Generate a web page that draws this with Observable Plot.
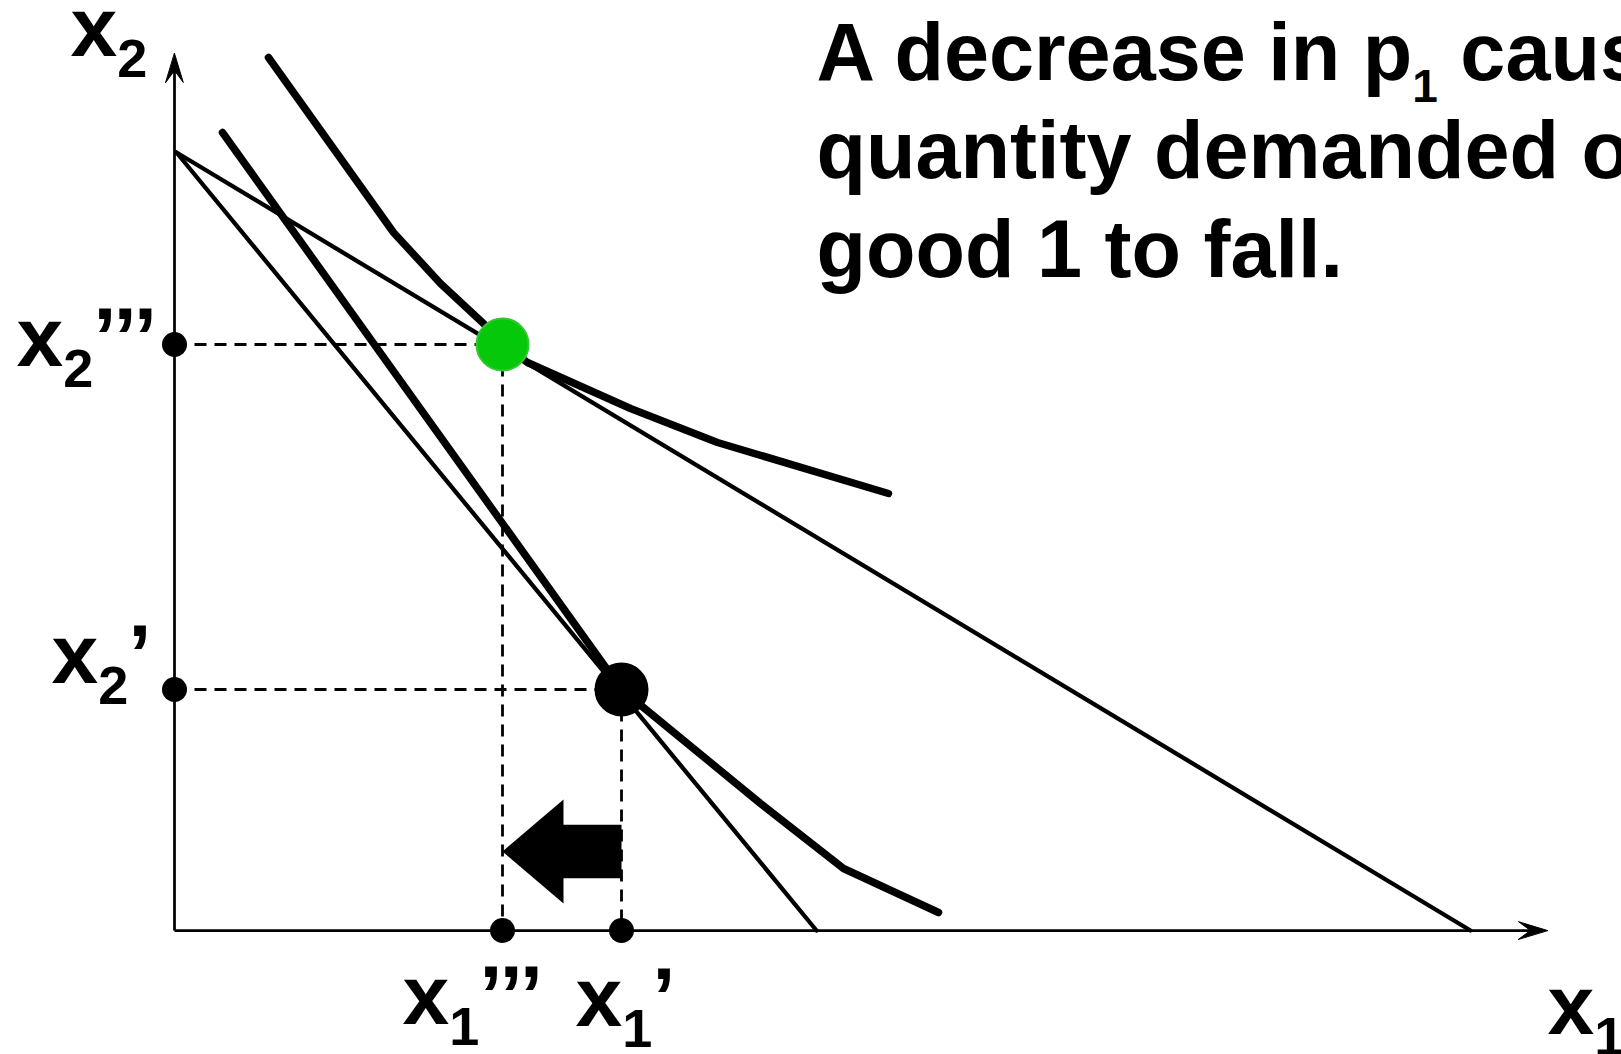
<!DOCTYPE html>
<html>
<head>
<meta charset="utf-8">
<script src="https://cdn.jsdelivr.net/npm/d3@7"></script>
<script src="https://cdn.jsdelivr.net/npm/@observablehq/plot@0.6"></script>
<style>
  html, body { margin: 0; padding: 0; background: #fff; overflow: hidden; }
  #chart svg { display: block; }
</style>
</head>
<body>
<div id="chart"></div>
<script>
// ---------- data ----------
// Budget lines: original (steeper) and after the fall in p1 (flatter)
const budgetOriginalX = [0.02, 6.42];
const budgetOriginalY = [7.78, 0];
const budgetNewX = [0.02, 12.96];
const budgetNewY = [7.78, 0];

// Indifference curves (thick)
const icLowX = [0.48, 4.47, 5.86, 6.69, 7.64];
const icLowY = [7.98, 2.41, 1.27, 0.62, 0.18];
const icHighX = [0.94, 2.19, 2.66, 3.09, 3.28, 3.53, 4.56, 5.43, 7.14];
const icHighY = [8.73, 6.98, 6.47, 6.07, 5.86, 5.68, 5.22, 4.88, 4.37];

// Optimal bundles: original (x1', x2') and new (x1''', x2''')
const bundleNames = ["original", "new"];
const bundleX1 = [4.47, 3.28];
const bundleX2 = [2.41, 5.86];
const bundleFill = ["#000000", "#05c80b"];
const bundleStroke = ["#000000", "#34c634"];

// Tick-like labels at the bundles (underscore marks a subscript)
const x1Labels = ["x_1’", "x_1’’’"];
const x2Labels = ["x_2’", "x_2’’’"];

// Axes
const axisNames = ["x_1", "x_2"];
const axisMaxX1 = 13.73;
const axisMaxX2 = 8.77;

// Heading (clipped at the right edge, as in the reference)
const titleLines = ["A decrease in p_1 causes the", "quantity demanded of", "good 1 to fall."];

// ---------- derived tables ----------
const toPts = (xs, ys) => xs.map((x, i) => ({x, y: ys[i]}));
const budgetOriginal = toPts(budgetOriginalX, budgetOriginalY);
const budgetNew = toPts(budgetNewX, budgetNewY);
const icLow = toPts(icLowX, icLowY);
const icHigh = toPts(icHighX, icHighY);
const bundles = bundleNames.map((name, i) => ({
  name, x1: bundleX1[i], x2: bundleX2[i], fill: bundleFill[i], stroke: bundleStroke[i],
  x1Label: x1Labels[i], x2Label: x2Labels[i]
}));
const axisDots = [
  ...bundles.map(b => ({x: 0, y: b.x2})),
  ...bundles.map(b => ({x: b.x1, y: 0}))
];

// arrowhead proportions (styling), in axis units
const HEAD = {len: 0.29, notch: 0.17, half: 0.088};
const axisShafts = [
  {x1: 0, y1: 0, x2: axisMaxX1 - HEAD.notch, y2: 0},
  {x1: 0, y1: 0, x2: 0, y2: axisMaxX2 - HEAD.notch}
];
const axisHeads = [
  {axis: "x1", x: axisMaxX1, y: 0},
  {axis: "x1", x: axisMaxX1 - HEAD.len, y: HEAD.half},
  {axis: "x1", x: axisMaxX1 - HEAD.notch, y: 0},
  {axis: "x1", x: axisMaxX1 - HEAD.len, y: -HEAD.half},
  {axis: "x2", x: 0, y: axisMaxX2},
  {axis: "x2", x: HEAD.half, y: axisMaxX2 - HEAD.len},
  {axis: "x2", x: 0, y: axisMaxX2 - HEAD.notch},
  {axis: "x2", x: -HEAD.half, y: axisMaxX2 - HEAD.len}
];

// block arrow from x1' to x1''' (shape proportions are styling)
const ARROW = {level: 0.79, headLen: 0.61, headHalf: 0.52, bodyHalf: 0.267};
const from = bundles[0].x1, to = bundles[1].x1;
const arrowPoly = [
  {x: to, y: ARROW.level},
  {x: to + ARROW.headLen, y: ARROW.level + ARROW.headHalf},
  {x: to + ARROW.headLen, y: ARROW.level + ARROW.bodyHalf},
  {x: from, y: ARROW.level + ARROW.bodyHalf},
  {x: from, y: ARROW.level - ARROW.bodyHalf},
  {x: to + ARROW.headLen, y: ARROW.level - ARROW.bodyHalf},
  {x: to + ARROW.headLen, y: ARROW.level - ARROW.headHalf}
];

// ---------- chart ----------
const FONT = "'Liberation Sans', Arial, Helvetica, sans-serif";
const LABEL_SIZE = 84;
const TITLE_SIZE = 81;

function label(datum, text, dx, dy) {
  return Plot.text([datum], {
    x: "x", y: "y", text: () => text, dx, dy,
    textAnchor: "start", lineAnchor: "bottom",
    fontSize: LABEL_SIZE, fontWeight: "bold", fontFamily: FONT, fill: "black"
  });
}

const chart = Plot.plot({
  width: 1621,
  height: 1054,
  marginLeft: 174,
  marginRight: 74,
  marginTop: 50,
  marginBottom: 124,
  x: {domain: [0, 13.73], axis: null},
  y: {domain: [0, 8.8], axis: null},
  style: {background: "white", fontFamily: FONT},
  marks: [
    // dashed guides
    Plot.link(bundles, {x1: 0, y1: "x2", x2: "x1", y2: "x2", stroke: "black", strokeWidth: 2.8, strokeDasharray: "12,8"}),
    Plot.link(bundles, {x1: "x1", y1: "x2", x2: "x1", y2: 0, stroke: "black", strokeWidth: 2.8, strokeDasharray: "12,8"}),
    // budget lines
    Plot.line(budgetOriginal, {x: "x", y: "y", stroke: "black", strokeWidth: 4.3}),
    Plot.line(budgetNew, {x: "x", y: "y", stroke: "black", strokeWidth: 4.3}),
    // indifference curves
    Plot.line(icLow, {x: "x", y: "y", stroke: "black", strokeWidth: 7.5, strokeLinejoin: "round"}),
    Plot.line(icHigh, {x: "x", y: "y", stroke: "black", strokeWidth: 7.5, strokeLinejoin: "round"}),
    // block arrow
    Plot.line(arrowPoly, {x: "x", y: "y", fill: "black", stroke: "none", curve: "linear-closed"}),
    // axes with filled heads
    Plot.link(axisShafts, {x1: "x1", y1: "y1", x2: "x2", y2: "y2", stroke: "black", strokeWidth: 2.75}),
    Plot.line(axisHeads, {x: "x", y: "y", z: "axis", fill: "black", stroke: "black", strokeWidth: 1, curve: "linear-closed"}),
    // axis dots
    Plot.dot(axisDots, {x: "x", y: "y", r: 12.5, fill: "black"}),
    // bundles
    Plot.dot(bundles, {x: "x1", y: "x2", r: 26, fill: "fill", stroke: "stroke", strokeWidth: 2}),
    // labels
    label({x: 0, y: axisMaxX2}, axisNames[1], -104, 2),
    label({x: axisMaxX1, y: 0}, axisNames[0], 0, 103),
    label({x: 0, y: bundles[1].x2}, bundles[1].x2Label, -158, 21),
    label({x: 0, y: bundles[0].x2}, bundles[0].x2Label, -123, -7),
    label({x: bundles[1].x1, y: 0}, bundles[1].x1Label, -100, 93),
    label({x: bundles[0].x1, y: 0}, bundles[0].x1Label, -46, 95),
    // heading
    Plot.text([titleLines.join("\n")], {
      frameAnchor: "top-left", text: d => d, dx: 642, dy: 226,
      textAnchor: "start", lineAnchor: "bottom", lineHeight: 1.216,
      fontSize: TITLE_SIZE, fontWeight: "bold", fontFamily: FONT, fill: "black"
    })
  ]
});

// turn "_d" into real subscript tspans
const NS = "http://www.w3.org/2000/svg";
const SUB = {
  [LABEL_SIZE]: {size: 54, shift: 21},
  [TITLE_SIZE]: {size: 46, shift: 22}
};
chart.querySelectorAll("text, tspan").forEach(el => {
  if (el.children.length) return;
  const m = el.textContent.match(/^(.*?)_(\d)(.*)$/);
  if (!m) return;
  const g = el.closest("g[font-size]");
  const fs = g ? +g.getAttribute("font-size") : LABEL_SIZE;
  const p = SUB[fs] || SUB[LABEL_SIZE];
  el.textContent = m[1];
  const sub = document.createElementNS(NS, "tspan");
  sub.setAttribute("font-size", p.size);
  sub.setAttribute("dy", p.shift);
  sub.textContent = m[2];
  el.appendChild(sub);
  if (m[3]) {
    const rest = document.createElementNS(NS, "tspan");
    rest.setAttribute("dy", -p.shift);
    rest.textContent = m[3];
    el.appendChild(rest);
  }
});

document.getElementById("chart").appendChild(chart);
</script>
</body>
</html>
